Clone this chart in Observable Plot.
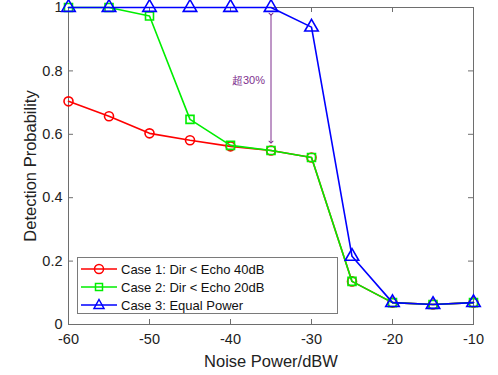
<!DOCTYPE html>
<html>
<head>
<meta charset="utf-8">
<script src="https://cdn.jsdelivr.net/npm/d3@7"></script>
<script src="https://cdn.jsdelivr.net/npm/@observablehq/plot@0.6"></script>
<style>
  html, body { margin: 0; padding: 0; background: #fff; }
  #wrap { position: relative; width: 498px; height: 375px; font-family: "Liberation Sans", Arial, sans-serif; }
  #legend { position: absolute; left: 77px; top: 257px; width: 261px; height: 57px; background: #fff; border: 1px solid #7a7a7a; box-sizing: border-box; }
  .row { position: absolute; left: 0; height: 18px; display: flex; align-items: center; font-size: 13px; color: #111; }
  .row svg { margin-left: 2px; margin-right: 3px; }
</style>
</head>
<body>
<div id="wrap"></div>
<script>
// ---- data ----
const noise = [-60, -55, -50, -45, -40, -35, -30, -25, -20, -15, -10];
const case1 = [0.704, 0.657, 0.603, 0.581, 0.562, 0.549, 0.527, 0.136, 0.069, 0.063, 0.069];
const case2 = [1.000, 1.000, 0.973, 0.647, 0.565, 0.549, 0.527, 0.136, 0.069, 0.063, 0.069];
const case3 = [1.000, 1.000, 1.000, 1.000, 1.000, 1.000, 0.938, 0.215, 0.069, 0.063, 0.069];
const seriesNames = ["Case 1: Dir < Echo 40dB", "Case 2: Dir < Echo 20dB", "Case 3: Equal Power"];
const seriesColors = ["#ff0000", "#00ee00", "#0000ff"];
const seriesSymbols = ["circle", "square", "triangle"];
const xTicks = [-60, -50, -40, -30, -20, -10];
const yTicks = [0, 0.2, 0.4, 0.6, 0.8, 1];
const annX = [-35];
const annTop = [0.979];
const annBottom = [0.575];
const annLabelY = [0.77];
const annLabel = ["超30%"];

const allSeries = [case1, case2, case3];
const rows = [];
allSeries.forEach((vals, i) => vals.forEach((v, j) => rows.push({x: noise[j], y: v, s: seriesNames[i]})));
const ann = annX.map((x, i) => ({x, y1: annTop[i], y2: annBottom[i], ly: annLabelY[i], t: annLabel[i]}));

const W = 498, H = 375, mL = 68, mR = 25, mT = 7, mB = 51;
const plotW = W - mL - mR, plotH = H - mT - mB, tk = 5;
const axisColor = "#6e6e6e";
const purple = "#7e2f8e";

const marks = [
  // inward ticks on all four sides (MATLAB box style)
  Plot.tickX(xTicks, {x: d => d, stroke: axisColor, insetTop: plotH - tk}),
  Plot.tickX(xTicks, {x: d => d, stroke: axisColor, insetBottom: plotH - tk}),
  Plot.tickY(yTicks, {y: d => d, stroke: axisColor, insetRight: plotW - tk}),
  Plot.tickY(yTicks, {y: d => d, stroke: axisColor, insetLeft: plotW - tk}),
  Plot.frame({stroke: axisColor}),
  Plot.axisX({anchor: "bottom", ticks: xTicks, tickSize: 0, tickPadding: 9, fontSize: 14.5, color: "#222",
              tickFormat: d => String(d),
              label: "Noise Power/dBW", labelAnchor: "center", labelArrow: "none", labelOffset: 42}),
  Plot.axisY({anchor: "left", ticks: yTicks, tickSize: 0, tickPadding: 6, fontSize: 14.5, color: "#222",
              tickFormat: d => String(d), label: "Detection Probability", labelAnchor: "center", labelArrow: "none", labelOffset: 44})
];
allSeries.forEach((vals, i) => {
  const d = rows.filter(r => r.s === seriesNames[i]);
  marks.push(Plot.line(d, {x: "x", y: "y", stroke: seriesColors[i], strokeWidth: 1.6}));
  marks.push(Plot.dot(d, {x: "x", y: "y", stroke: seriesColors[i], symbol: seriesSymbols[i], r: i === 2 ? 5 : 4.5, strokeWidth: 1.6, fill: "none"}));
});
marks.push(Plot.link(ann, {x1: "x", x2: "x", y1: "y1", y2: "y2", stroke: purple, strokeWidth: 1, markerStart: "arrow", markerEnd: "arrow"}));
marks.push(Plot.text(ann, {x: "x", y: "ly", text: "t", fill: purple, fontSize: 11, textAnchor: "end", dx: -6}));

const chart = Plot.plot({
  width: W, height: H,
  marginLeft: mL, marginRight: mR, marginTop: mT, marginBottom: mB,
  style: {fontFamily: "'Liberation Sans', Arial, sans-serif", background: "#fff", overflow: "visible"},
  x: {domain: [-60, -10]},
  y: {domain: [0, 1]},
  marks
});
chart.querySelectorAll('g[aria-label="x-axis label"] text, g[aria-label="y-axis label"] text').forEach(t => { t.setAttribute("font-size", 16.5); t.setAttribute("fill", "#222"); });
const wrap = document.getElementById("wrap");
wrap.appendChild(chart);

// legend overlay
const leg = document.createElement("div");
leg.id = "legend";
seriesNames.forEach((name, i) => {
  const row = document.createElement("div");
  row.className = "row";
  row.style.top = (2 + i * 18) + "px";
  const c = seriesColors[i];
  let m = "";
  if (seriesSymbols[i] === "circle") m = `<circle cx="19" cy="9" r="4.5" fill="none" stroke="${c}" stroke-width="1.5"/>`;
  else if (seriesSymbols[i] === "square") m = `<rect x="15.5" y="5.5" width="7" height="7" fill="none" stroke="${c}" stroke-width="1.5"/>`;
  else m = `<path d="M19,3.5 L24,12.5 L14,12.5 Z" fill="none" stroke="${c}" stroke-width="1.5"/>`;
  row.innerHTML = `<svg width="38" height="18"><line x1="1" y1="9" x2="37" y2="9" stroke="${c}" stroke-width="1.5"/>${m}</svg><span>${name}</span>`;
  leg.appendChild(row);
});
wrap.appendChild(leg);
</script>
</body>
</html>
